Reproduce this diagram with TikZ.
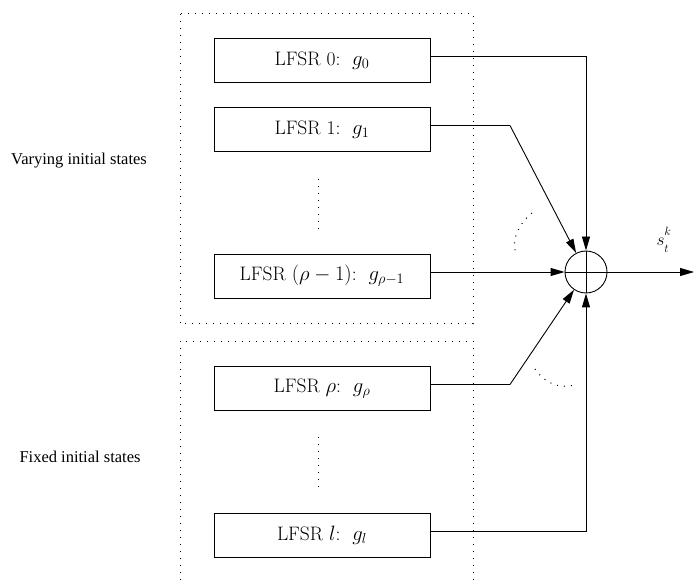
\documentclass[tikz,border=0pt]{standalone}
\usepackage{fontspec}
\newfontfamily\labelfont{Liberation Serif}
\usetikzlibrary{arrows.meta}

\begin{document}
\begin{tikzpicture}[x=1pt,y=-1pt,
  lfsr/.style={draw, line width=0.9pt, minimum width=216pt, minimum height=44pt,
               inner sep=0pt, font=\fontsize{19.5}{22}\selectfont},
  wire/.style={line width=0.9pt},
  feed/.style={wire, -{Triangle[length=14pt,width=8pt]}},
  dots/.style={line width=1pt, dash pattern=on 1pt off 6pt},
  grp/.style={font=\labelfont\fontsize{16.5}{19}\selectfont}]
\useasboundingbox (0,0) rectangle (694,580);

% groups of registers
\draw[dots] (180,14) rectangle (473,324);
\draw[dots] (180,580) -- (180,341) -- (473,341) -- (473,580);

\node[grp] (vary) at (79,161) {Varying initial states};
\node[grp] (fixd) at (80,457) {Fixed initial states};

% registers
\node[lfsr] (r0)  at (322,60.5)  {LFSR 0:~~$g_0$};
\node[lfsr] (r1)  at (322,129.5) {LFSR 1:~~$g_1$};
\node[lfsr] (rm)  at (322,276)   {LFSR $(\rho-1)$:~~$g_{\rho-1}$};
\node[lfsr] (rr)  at (322,388.5) {LFSR $\rho$:~~$g_\rho$};
\node[lfsr] (rl)  at (322,535.5) {LFSR $l$:~~$g_l$};

% elided registers
\draw[dots] (318,179) -- (318,230);
\draw[dots] (318,437) -- (318,489);

% combining adder
\node[circle, draw, line width=0.9pt, minimum size=42pt, inner sep=0pt] (add) at (586,272) {};
\draw[wire] (add.north) -- (add.south) (add.west) -- (add.east);

% bends of the feeding wires
\coordinate (k1) at (510,125.5);
\coordinate (kr) at (510,384.5);
\coordinate (out) at (694,272);

\draw[feed] ([yshift=4pt]r0.east) -| (add.north);
\draw[feed] ([yshift=4pt]rl.east) -| (add.south);
\draw[feed] ([yshift=4pt]rm.east) -- (add.west);
\draw[wire] ([yshift=4pt]r1.east) -- (k1);
\draw[feed] (k1) -- (add);
\draw[wire] ([yshift=4pt]rr.east) -- (kr);
\draw[feed] (kr) -- (add);

% output
\draw[feed] (add.east) -- (out);
\node[font=\fontsize{17}{20}\selectfont] (sk) at (664,240)
  {$s^{\raisebox{3pt}{$\scriptstyle k$}}_{\raisebox{-3pt}{$\scriptstyle t$}}$};

% further inputs implied
\draw[dots] (532,213) .. controls (518,224) and (511,242) .. (516,253);
\draw[dots] (535,369) .. controls (545,384) and (562,390) .. (577,384);
\end{tikzpicture}
\end{document}
